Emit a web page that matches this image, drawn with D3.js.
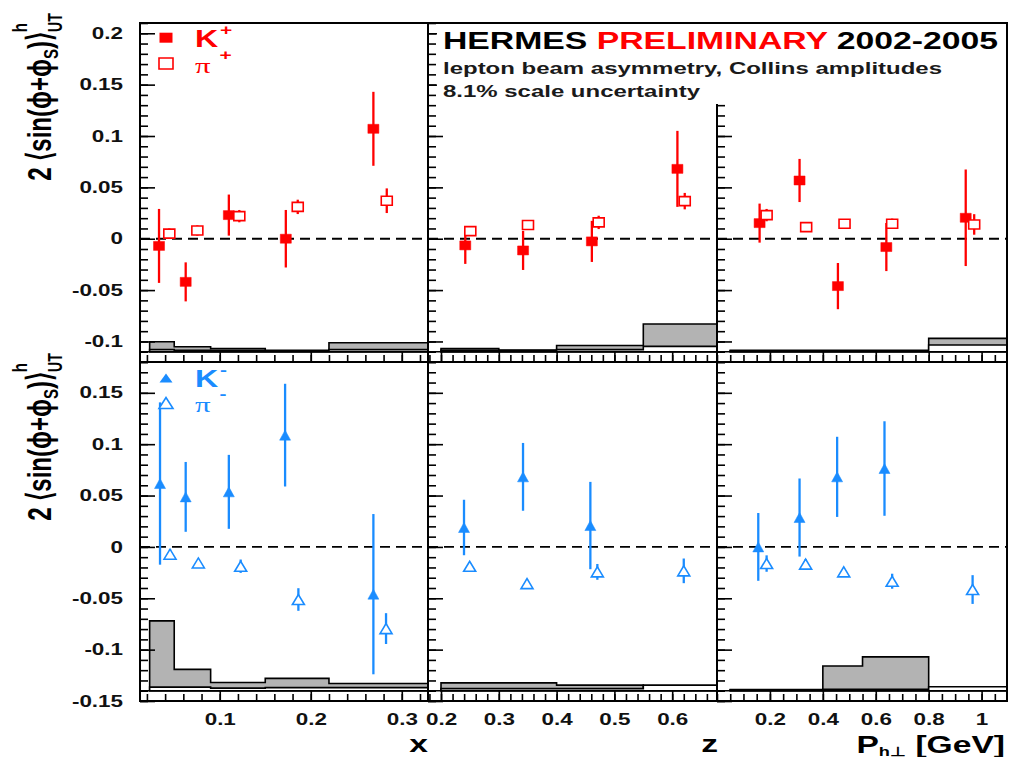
<!DOCTYPE html>
<html><head><meta charset="utf-8">
<script src="https://cdn.jsdelivr.net/npm/d3@7"></script>
<style>body{margin:0;background:#fff}svg{display:block}</style>
</head><body>
<svg id="c" width="1009" height="757"></svg>
<script>
// ---------------- data ----------------
// tick labels
const xTicks = [0.1, 0.2, 0.3];
const zTicks = [0.2, 0.3, 0.4, 0.5, 0.6];
const pTicks = [0.2, 0.4, 0.6, 0.8, 1];
const yTopTicks = [-0.1, -0.05, 0, 0.05, 0.1, 0.15, 0.2];
const yBotTicks = [-0.15, -0.1, -0.05, 0, 0.05, 0.1, 0.15];

// K+ / pi+ vs x
const kpX_x = [0.0333, 0.0626, 0.110, 0.1726, 0.2688];
const kpX_v = [-0.007, -0.042, 0.023, 0.000, 0.107];
const kpX_e = [0.036, 0.019, 0.020, 0.028, 0.036];
const ppX_x = [0.0446, 0.0754, 0.1215, 0.1857, 0.2835];
const ppX_v = [0.005, 0.008, 0.022, 0.031, 0.037];
const ppX_e = [0.005, 0.005, 0.006, 0.007, 0.012];
// K+ / pi+ vs z
const kpZ_x = [0.242, 0.342, 0.461, 0.609];
const kpZ_v = [-0.0065, -0.0114, -0.0026, 0.068];
const kpZ_e = [0.018, 0.019, 0.020, 0.037];
const ppZ_x = [0.2507, 0.3505, 0.4728, 0.6217];
const ppZ_v = [0.0074, 0.0134, 0.0159, 0.0366];
const ppZ_e = [0.004, 0.004, 0.0065, 0.008];
// K+ / pi+ vs Ph
const kpP_x = [0.161, 0.312, 0.457, 0.640, 0.940];
const kpP_v = [0.0152, 0.0567, -0.0461, -0.0081, 0.0204];
const kpP_e = [0.019, 0.021, 0.0225, 0.0234, 0.047];
const ppP_x = [0.1875, 0.337, 0.482, 0.662, 0.972];
const ppP_v = [0.023, 0.0113, 0.0146, 0.0146, 0.0139];
const ppP_e = [0.006, 0.004, 0.004, 0.005, 0.010];
// K- / pi- vs x
const kmX_x = [0.0344, 0.0626, 0.110, 0.1718, 0.2688];
const kmX_v = [0.0617, 0.0487, 0.0536, 0.1088, -0.046];
const kmX_e = [0.079, 0.034, 0.036, 0.050, 0.078];
const pmX_x = [0.0454, 0.0765, 0.123, 0.1864, 0.2827];
const pmX_v = [-0.0071, -0.0156, -0.0188, -0.0512, -0.0795];
const pmX_e = [0.005, 0.004, 0.0065, 0.011, 0.015];
// K- / pi- vs z
const kmZ_x = [0.2398, 0.3419, 0.4584];
const kmZ_v = [0.0189, 0.0682, 0.0208];
const kmZ_e = [0.027, 0.033, 0.0425];
const pmZ_x = [0.2496, 0.3488, 0.4705, 0.620];
const pmZ_v = [-0.0188, -0.0357, -0.0243, -0.0233];
const pmZ_e = [0.004, 0.004, 0.0077, 0.012];
// K- / pi- vs Ph
const kmP_x = [0.156, 0.312, 0.454, 0.633];
const kmP_v = [0.000, 0.0286, 0.0682, 0.0763];
const kmP_e = [0.033, 0.038, 0.039, 0.046];
const pmP_x = [0.1875, 0.335, 0.479, 0.662, 0.966];
const pmP_v = [-0.0162, -0.0168, -0.0243, -0.0334, -0.0415];
const pmP_e = [0.008, 0.005, 0.004, 0.0073, 0.014];

// systematic bands (bin edges and heights above band baseline)
const binsX = [0.023, 0.05, 0.09, 0.15, 0.22, 0.4];
const binsZ = [0.2, 0.3, 0.4, 0.55, 0.7];
const binsP = [0.05, 0.23, 0.4, 0.55, 0.8, 1.2];
const sysKpX = [0.0097, 0.0048, 0.003, 0.0015, 0.0087];
const sysPpX = [0.002, 0.0015, 0.0012, 0.001, 0.002];
const sysKpZ = [0.003, 0.0017, 0.006, 0.027];
const sysPpZ = [0.0015, 0.0012, 0.002, 0.0052];
const sysKpP = [0.0015, 0.0015, 0.0015, 0.0015, 0.013];
const sysPpP = [0.001, 0.001, 0.001, 0.001, 0.0065];
const sysKmX = [0.068, 0.0208, 0.008, 0.012, 0.007];
const sysPmX = [0.0035, 0.0035, 0.0025, 0.003, 0.003];
const sysKmZ = [0.0076, 0.0076, 0.0055, 0.002];
const sysPmZ = [0.002, 0.002, 0.002, 0.0055];
const sysKmP = [0.0012, 0.0012, 0.024, 0.033, 0.002];
const sysPmP = [0.001, 0.001, 0.0015, 0.0015, 0.0039];

// ---------------- drawing ----------------
const FONT = '"Liberation Sans", Arial, Helvetica, sans-serif';
const RED = '#ff0000', BLUE = '#1a8cff', GRAY = '#b3b3b3';
const SX = 1.4; // horizontal stretch of the original figure
const svg = d3.select('#c');

const cols = [
  {px: [140, 428], dom: [0.0124, 0.3288], major: xTicks, minor: 0.02, bins: binsX},
  {px: [428, 717], dom: [0.1775, 0.6775], major: zTicks, minor: 0.02, bins: binsZ},
  {px: [717, 1007], dom: [0, 1.096], major: pTicks, minor: 0.05, bins: binsP}
];
const rows = [
  {px: [23, 362], dom: [-0.12, 0.21], major: yTopTicks, base: -0.11, color: RED, shape: 'sq'},
  {px: [362, 701], dom: [-0.15, 0.18], major: yBotTicks, base: -0.14, color: BLUE, shape: 'tri'}
];
const series = [
  [ {k: [kpX_x, kpX_v, kpX_e], p: [ppX_x, ppX_v, ppX_e], sk: sysKpX, sp: sysPpX},
    {k: [kpZ_x, kpZ_v, kpZ_e], p: [ppZ_x, ppZ_v, ppZ_e], sk: sysKpZ, sp: sysPpZ},
    {k: [kpP_x, kpP_v, kpP_e], p: [ppP_x, ppP_v, ppP_e], sk: sysKpP, sp: sysPpP} ],
  [ {k: [kmX_x, kmX_v, kmX_e], p: [pmX_x, pmX_v, pmX_e], sk: sysKmX, sp: sysPmX},
    {k: [kmZ_x, kmZ_v, kmZ_e], p: [pmZ_x, pmZ_v, pmZ_e], sk: sysKmZ, sp: sysPmZ},
    {k: [kmP_x, kmP_v, kmP_e], p: [pmP_x, pmP_v, pmP_e], sk: sysKmP, sp: sysPmP} ]
];

const fmt = d => String(+d.toFixed(3));
function minorVals(dom, step) {
  const a = Math.ceil(dom[0] / step - 1e-9), b = Math.floor(dom[1] / step + 1e-9);
  return d3.range(a, b + 1).map(i => +(i * step).toFixed(6));
}
function stretch(sel, k) {
  sel.each(function () {
    const L = this.getComputedTextLength();
    this.setAttribute('textLength', L * (k || SX));
    this.setAttribute('lengthAdjust', 'spacingAndGlyphs');
  });
}
function markerPath(shape, cx, cy, w, h) {
  if (shape === 'sq') return `M${cx - w / 2},${cy - h / 2}h${w}v${h}h${-w}Z`;
  return `M${cx - w / 2},${cy + h / 2}L${cx + w / 2},${cy + h / 2}L${cx},${cy - h / 2}Z`;
}

const defs = svg.append('defs');

rows.forEach((R, ri) => {
  cols.forEach((C, ci) => {
    const sx = d3.scaleLinear().domain(C.dom).range(C.px);
    const sy = d3.scaleLinear().domain(R.dom).range([R.px[1], R.px[0]]);
    const S = series[ri][ci];
    const id = `clip${ri}${ci}`;
    defs.append('clipPath').attr('id', id).append('rect')
      .attr('x', C.px[0]).attr('y', R.px[0])
      .attr('width', C.px[1] - C.px[0]).attr('height', R.px[1] - R.px[0]);
    const g = svg.append('g').attr('clip-path', `url(#${id})`);

    // systematic bands
    const histPath = (hs) => {
      const pts = [{x: C.bins[0], h: 0}];
      hs.forEach((h, i) => pts.push({x: C.bins[i], h}));
      pts.push({x: C.bins[hs.length], h: hs[hs.length - 1]});
      pts.push({x: C.bins[hs.length], h: 0});
      return d3.line().x(d => sx(d.x)).y(d => sy(R.base + d.h)).curve(d3.curveStepAfter)(pts) + 'Z';
    };
    g.append('path').attr('d', histPath(S.sk)).attr('fill', GRAY)
      .attr('stroke', '#000').attr('stroke-width', 1.6);
    g.append('path').attr('d', histPath(S.sp)).attr('fill', '#fff')
      .attr('stroke', '#000').attr('stroke-width', 1.6);
    g.append('line').attr('x1', C.px[0]).attr('x2', C.px[1])
      .attr('y1', sy(R.base)).attr('y2', sy(R.base))
      .attr('stroke', '#000').attr('stroke-width', 1.4);

    // zero line
    g.append('line').attr('x1', C.px[0]).attr('x2', C.px[1])
      .attr('y1', sy(0)).attr('y2', sy(0))
      .attr('stroke', '#000').attr('stroke-width', 1.8).attr('stroke-dasharray', '10,6');

    // points
    const drawSet = (arr, filled) => {
      const [xs, vs, es] = arr;
      const pts = xs.map((x, i) => ({x, v: vs[i], e: es[i]}));
      g.selectAll(null).data(pts).enter().append('line')
        .attr('x1', d => sx(d.x)).attr('x2', d => sx(d.x))
        .attr('y1', d => sy(d.v + d.e)).attr('y2', d => sy(d.v - d.e))
        .attr('stroke', R.color).attr('stroke-width', 2.3);
      g.selectAll(null).data(pts).enter().append('path')
        .attr('d', d => filled ? markerPath(R.shape, sx(d.x), sy(d.v), 11, R.shape === 'sq' ? 9 : 10)
                               : markerPath(R.shape, sx(d.x), sy(d.v), R.shape === 'sq' ? 11 : 12, R.shape === 'sq' ? 9 : 10))
        .attr('fill', filled ? R.color : '#fff')
        .attr('stroke', R.color).attr('stroke-width', filled ? 0.5 : 1.6);
    };
    drawSet(S.k, true);
    drawSet(S.p, false);

    // y ticks (pointing right from left frame)
    const yAx = svg.append('g').attr('transform', `translate(${C.px[0]},0)`);
    yAx.append('g').call(d3.axisRight(sy).tickValues(minorVals(R.dom, 0.01)).tickSize(8).tickFormat(''));
    yAx.append('g').call(d3.axisRight(sy).tickValues(R.major).tickSize(15).tickFormat(''));
    yAx.selectAll('.domain').remove();
    yAx.selectAll('line').attr('stroke', '#000').attr('stroke-width', 1.6);

    // x ticks (pointing up from bottom frame)
    const xAx = svg.append('g').attr('transform', `translate(0,${R.px[1]})`);
    xAx.append('g').call(d3.axisTop(sx).tickValues(minorVals(C.dom, C.minor)).tickSize(7).tickFormat(''));
    xAx.append('g').call(d3.axisTop(sx).tickValues(C.major).tickSize(11).tickFormat(''));
    xAx.selectAll('.domain').remove();
    xAx.selectAll('line').attr('stroke', '#000').attr('stroke-width', 1.6);

    // labels
    if (ci === 0) {
      const yl = svg.append('g').attr('transform', `translate(${C.px[0]},0)`)
        .call(d3.axisLeft(sy).tickValues(R.major).tickSize(0).tickPadding(17).tickFormat(fmt));
      yl.select('.domain').remove();
      yl.selectAll('text').attr('font-family', FONT).attr('font-weight', 'bold')
        .attr('font-size', 16).attr('fill', '#111');
      stretch(yl.selectAll('text'));
    }
    if (ri === 1) {
      const xl = svg.append('g').attr('transform', `translate(0,${R.px[1]})`)
        .call(d3.axisBottom(sx).tickValues(C.major).tickSize(0).tickPadding(13).tickFormat(fmt));
      xl.select('.domain').remove();
      xl.selectAll('text').attr('font-family', FONT).attr('font-weight', 'bold')
        .attr('font-size', 16).attr('fill', '#111');
      stretch(xl.selectAll('text'));
    }

    // frame
    svg.append('rect').attr('x', C.px[0]).attr('y', R.px[0])
      .attr('width', C.px[1] - C.px[0]).attr('height', R.px[1] - R.px[0])
      .attr('fill', 'none').attr('stroke', '#000').attr('stroke-width', 2);
  });
});

// title box
svg.append('rect').attr('x', 437).attr('y', 24).attr('width', 569).attr('height', 80).attr('fill', '#fff');
function fitText(x, y, size, target, parts, weight) {
  const t = svg.append('text').attr('x', x).attr('y', y).attr('font-family', FONT)
    .attr('font-weight', weight || 'bold').attr('font-size', size);
  parts.forEach(p => t.append('tspan').text(p[0]).attr('fill', p[1]));
  t.attr('textLength', target).attr('lengthAdjust', 'spacingAndGlyphs');
  return t;
}
fitText(443, 49, 24, 555, [['HERMES ', '#000'], ['PRELIMINARY', RED], [' 2002-2005', '#000']]);
fitText(443, 74, 16.5, 499, [['lepton beam asymmetry, Collins amplitudes', '#1a1a1a']]);
fitText(443, 97, 16.5, 257, [['8.1% scale uncertainty', '#1a1a1a']]);

// axis titles
function sgroup(x, y, rot) {
  return svg.append('g').attr('transform', `translate(${x},${y}) scale(${SX},1)` + (rot ? ` rotate(${rot})` : ''));
}
[['x', 428], ['z', 718]].forEach(([s, x]) => {
  sgroup(x, 752, 0).append('text').attr('text-anchor', 'end').attr('font-family', FONT)
    .attr('font-weight', 'bold').attr('font-size', 24).attr('fill', '#000').text(s);
});
{
  const t = sgroup(1005, 753, 0).append('text').attr('text-anchor', 'end').attr('font-family', FONT)
    .attr('font-weight', 'bold').attr('font-size', 24).attr('fill', '#000');
  t.append('tspan').text('P');
  t.append('tspan').text('h\u22A5').attr('font-size', 13).attr('dy', 3);
  t.append('tspan').text(' [GeV]').attr('dy', -3);
}
// y titles
[97, 437].forEach(cy => {
  const t = sgroup(51, cy, -90).append('text').attr('text-anchor', 'middle').attr('font-family', FONT)
    .attr('font-weight', 'bold').attr('font-size', 24).attr('fill', '#000');
  t.append('tspan').text('2 \u27E8sin(\u03D5+\u03D5');
  t.append('tspan').text('S').attr('font-size', 15).attr('dy', 5);
  t.append('tspan').text(')\u27E9').attr('dy', -5);
  t.append('tspan').text('UT').attr('font-size', 14).attr('dy', 8);
  t.append('tspan').text('h').attr('font-size', 15).attr('dx', -19).attr('dy', -25);
});

// legends
function legend(y1, y2, color, shape, sign) {
  svg.append('path').attr('d', markerPath(shape, 166, y1, 13, shape === 'sq' ? 10 : 9)).attr('fill', color);
  svg.append('path').attr('d', markerPath(shape, 166, y2, 14, 11)).attr('fill', '#fff')
    .attr('stroke', color).attr('stroke-width', 1.6);
  sgroup(195, y1 + 9, 0).append('text').attr('font-family', FONT).attr('font-weight', 'bold')
    .attr('font-size', 23).attr('fill', color).text('K');
  sgroup(220, y1 - 3, 0).append('text').attr('font-family', FONT).attr('font-weight', 'bold')
    .attr('font-size', 15).attr('fill', color).text(sign);
  sgroup(195, y2 + 9, 0).append('text').attr('font-family', '"Liberation Serif", "DejaVu Serif", serif')
    .attr('font-size', 22).attr('fill', color).text('\u03C0');
  sgroup(219.5, y2 - 4, 0).append('text').attr('font-family', FONT).attr('font-weight', 'bold')
    .attr('font-size', 15).attr('fill', color).text(sign);
}
legend(37.7, 63.5, RED, 'sq', '+');
legend(378, 403, BLUE, 'tri', '-');
</script>
</body></html>
